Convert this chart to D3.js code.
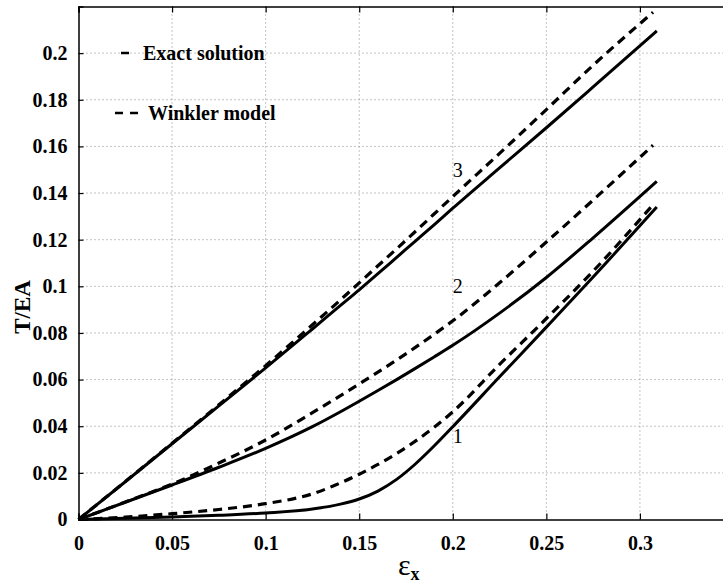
<!DOCTYPE html>
<html>
<head>
<meta charset="utf-8">
<script src="https://cdn.jsdelivr.net/npm/d3@7"></script>
<style>
    body { margin:0; background:#fff; }
    text { font-family: "Liberation Serif", "Times New Roman", serif; }
</style>
</head>
<body>
<div id="chartContainer"></div>
<script>

// ---------- data
var strainExact   = [0, 0.025, 0.05, 0.075, 0.1, 0.125, 0.14, 0.15, 0.16, 0.17, 0.18, 0.19, 0.2, 0.225, 0.25, 0.275, 0.309];
var strainWinkler = [0, 0.025, 0.05, 0.075, 0.1, 0.125, 0.14, 0.15, 0.16, 0.17, 0.18, 0.19, 0.2, 0.225, 0.25, 0.275, 0.307];

var exact1   = [0, 0.0005, 0.0011, 0.0018, 0.0028, 0.0045, 0.0066, 0.0088, 0.0122, 0.0172, 0.0238, 0.0315, 0.0398, 0.0612, 0.0825, 0.104, 0.134];
var winkler1 = [0, 0.001, 0.0025, 0.0043, 0.0068, 0.011, 0.0157, 0.0194, 0.0236, 0.0283, 0.0336, 0.0395, 0.0462, 0.0665, 0.0862, 0.1065, 0.135];
var exact2   = [0, 0.0074, 0.0148, 0.0224, 0.0305, 0.0398, 0.0462, 0.0507, 0.0553, 0.060, 0.0648, 0.0697, 0.0747, 0.0885, 0.1038, 0.1208, 0.145];
var winkler2 = [0, 0.0075, 0.0152, 0.0242, 0.0341, 0.0458, 0.0531, 0.0581, 0.0632, 0.0684, 0.0738, 0.0794, 0.0852, 0.1015, 0.119, 0.137, 0.1605];
var exact3   = [0, 0.0162, 0.0325, 0.0487, 0.065, 0.0817, 0.0918, 0.0985, 0.1054, 0.1124, 0.1194, 0.1264, 0.1335, 0.1508, 0.168, 0.1855, 0.2095];
var winkler3 = [0, 0.0163, 0.0327, 0.0492, 0.066, 0.0835, 0.0942, 0.1015, 0.1088, 0.1161, 0.1235, 0.131, 0.1385, 0.157, 0.1758, 0.1948, 0.2175];

var xTicks = [0, 0.05, 0.1, 0.15, 0.2, 0.25, 0.3];
var yTicks = [0, 0.02, 0.04, 0.06, 0.08, 0.1, 0.12, 0.14, 0.16, 0.18, 0.2];
var curveLabels = [{ name:"1", x:0.2, y:0.033 }, { name:"2", x:0.2, y:0.097 }, { name:"3", x:0.2, y:0.147 }];
var legendNames = ["Exact solution", "Winkler model"];

var W = 723, H = 587;
var margin = { left:78.5, top:6.5 };
var w = 655, h = 513;   // right edge (0.35) falls outside the window, like the original

var svg = d3.select("#chartContainer")
            .append("svg")
            .attr("width", W)
            .attr("height", H);

svg.append("rect").attr("width", W).attr("height", H).attr("fill", "#fff");

var g = svg.append("g")
            .attr("transform", "translate(" + margin.left + "," + margin.top + ")");

var xScale = d3.scaleLinear().domain([0, 0.35]).range([0, w]);
var yScale = d3.scaleLinear().domain([0, 0.22]).range([h, 0]);

// ---------- grid
g.selectAll(".vgrid").data(xTicks.slice(1))
    .enter().append("line")
    .attr("x1", function(d){ return xScale(d); })
    .attr("x2", function(d){ return xScale(d); })
    .attr("y1", 0).attr("y2", h)
    .attr("stroke", "#888").attr("stroke-width", 1)
    .attr("stroke-dasharray", "1,3");

g.selectAll(".hgrid").data(yTicks.slice(1))
    .enter().append("line")
    .attr("x1", 0).attr("x2", w)
    .attr("y1", function(d){ return yScale(d); })
    .attr("y2", function(d){ return yScale(d); })
    .attr("stroke", "#888").attr("stroke-width", 1)
    .attr("stroke-dasharray", "1,3");

// ---------- axes (ticks point inward)
var fmt = function(d){ return d3.format("")(+d.toFixed(2)); };

var xAxis = d3.axisBottom(xScale).tickValues(xTicks).tickSize(-6).tickPadding(16).tickFormat(fmt);
var xAxisTop = d3.axisTop(xScale).tickValues(xTicks).tickSize(-6).tickFormat("");
var yAxis = d3.axisLeft(yScale).tickValues(yTicks).tickSize(-5).tickPadding(11).tickFormat(fmt);

var xg = g.append("g").attr("transform", "translate(0," + h + ")").call(xAxis);
var xtg = g.append("g").call(xAxisTop);
var yg = g.append("g").call(yAxis);

[xg, xtg, yg].forEach(function(a){
    a.select(".domain").attr("stroke", "#000").attr("stroke-width", 1.5);
    a.selectAll(".tick line").attr("stroke", "#000").attr("stroke-width", 1.2);
    a.selectAll("text")
        .attr("fill", "#000")
        .attr("font-family", "Liberation Serif")
        .attr("font-weight", "bold")
        .attr("font-size", 20);
});

// ---------- curves
var lineGen = function(xs) {
    return d3.line()
        .curve(d3.curveMonotoneX)
        .x(function(d, i){ return xScale(xs[i]); })
        .y(function(d){ return yScale(d); });
};

[exact1, exact2, exact3].forEach(function(s){
    g.append("path")
        .datum(s)
        .attr("d", lineGen(strainExact))
        .attr("fill", "none")
        .attr("stroke", "#000")
        .attr("stroke-width", 3);
});

[winkler1, winkler2, winkler3].forEach(function(s){
    g.append("path")
        .datum(s)
        .attr("d", lineGen(strainWinkler))
        .attr("fill", "none")
        .attr("stroke", "#000")
        .attr("stroke-width", 3.2)
        .attr("stroke-dasharray", "9,6");
});

// ---------- curve numbers
g.selectAll(".clabel").data(curveLabels)
    .enter().append("text")
    .attr("x", function(d){ return xScale(d.x); })
    .attr("y", function(d){ return yScale(d.y); })
    .attr("font-size", 20)
    .text(function(d){ return d.name; });

// ---------- legend
var legend = svg.append("g");

legend.append("line")
    .attr("x1", 121).attr("x2", 129).attr("y1", 53).attr("y2", 53)
    .attr("stroke", "#000").attr("stroke-width", 2.5);
legend.append("text")
    .attr("x", 143).attr("y", 60)
    .attr("font-weight", "bold").attr("font-size", 20)
    .text(legendNames[0]);

legend.append("line")
    .attr("x1", 115).attr("x2", 123).attr("y1", 113).attr("y2", 113)
    .attr("stroke", "#000").attr("stroke-width", 2.5);
legend.append("line")
    .attr("x1", 130).attr("x2", 138).attr("y1", 113).attr("y2", 113)
    .attr("stroke", "#000").attr("stroke-width", 2.5);
legend.append("text")
    .attr("x", 148).attr("y", 120)
    .attr("font-weight", "bold").attr("font-size", 20)
    .text(legendNames[1]);

// ---------- axis labels
svg.append("text")
    .attr("transform", "translate(30,307) rotate(-90)")
    .attr("text-anchor", "middle")
    .attr("font-weight", "bold")
    .attr("font-size", 23)
    .text("T/EA");

var xLabel = svg.append("text")
    .attr("x", 398).attr("y", 575);
xLabel.append("tspan").attr("font-size", 30).text("ε");
xLabel.append("tspan").attr("font-size", 18).attr("font-weight", "bold").attr("dy", 5).text("x");

</script>
</body>
</html>
